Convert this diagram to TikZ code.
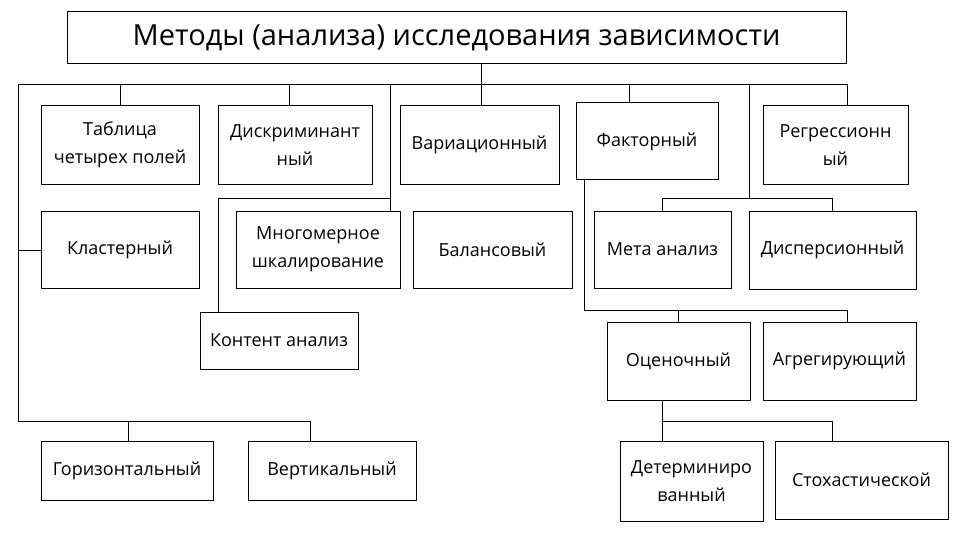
\documentclass[tikz,border=0pt]{standalone}
\usepackage{fontspec}
\setmainfont{Open Sans}
\begin{document}
\begin{tikzpicture}[x=1pt,y=-1pt,line width=1pt,
  bx/.style={draw,fill=white,inner sep=0pt,align=center,font=\fontsize{18}{28}\selectfont}]
\useasboundingbox (0,0) rectangle (960,540);
\newcommand\bx[6]{\node[bx,minimum width={#4-#2},minimum height={#5-#3}] (#1) at ({(#2+#4)/2},{(#3+#5)/2}) {#6};}
\node[draw,inner sep=0pt,minimum width=779,minimum height=52,font=\fontsize{29}{32}\selectfont] (title) at (456.5,38) {Методы (анализа) исследования зависимости};
% connectors
\coordinate (bl) at (18,85); \coordinate (br) at (847,85);
\draw (title.south -| 481,0) -- (481,106);
\draw (bl) -- (br) -- (847,106);
\draw (120,85) -- (120,106);
\draw (289,85) -- (289,106);
\draw (390,85) -- (390,211);
\draw (390,198) -- (218,198) -- (218,312);
\draw (629,85) -- (629,103);
\draw (749,85) -- (749,198);
\draw (662,211) -- (662,198) -- (832,198) -- (832,211);
\draw (584,180) -- (584,310) -- (847,310) -- (847,322);
\draw (678,310) -- (678,322);
\draw (662,400) -- (662,441);
\draw (662,421) -- (832,421) -- (832,441);
\draw (bl) -- (18,421) -- (310,421) -- (310,441);
\draw (128,421) -- (128,441);
\draw (18,250) -- (41,250);
% boxes
\bx{tab}{41}{106}{199}{184}{Таблица\\четырех полей}
\bx{dis}{218}{106}{372}{184}{Дискриминант\\ный}
\bx{var}{400}{106}{559}{184}{Вариационный}
\bx{fak}{576}{103}{718}{180}{Факторный}
\bx{reg}{763}{106}{908}{184}{Регрессионн\\ый}
\bx{kla}{41}{211}{199}{288}{Кластерный}
\bx{mno}{236}{211}{400}{288}{Многомерное\\шкалирование}
\bx{bal}{413}{211}{572}{288}{Балансовый}
\bx{met}{594}{211}{731}{288}{Мета анализ}
\bx{dsp}{749}{211}{916}{289}{Дисперсионный}
\bx{kon}{200}{312}{358}{369}{Контент анализ}
\bx{oce}{607}{322}{750}{400}{Оценочный}
\bx{agr}{763}{322}{916}{400}{Агрегирующий}
\bx{hor}{41}{441}{213}{500}{Горизонтальный}
\bx{ver}{248}{441}{416}{500}{Вертикальный}
\bx{det}{620}{441}{763}{521}{Детерминиро\\ванный}
\bx{sto}{775}{441}{948}{519}{Стохастической}
\end{tikzpicture}
\end{document}
